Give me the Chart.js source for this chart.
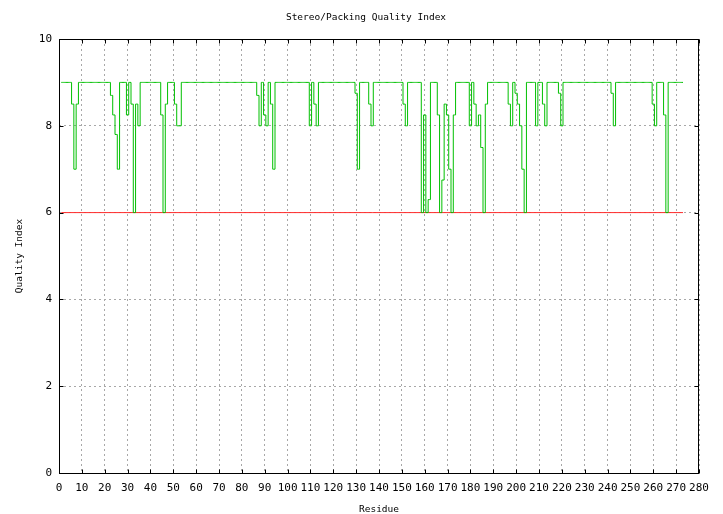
<!DOCTYPE html>
<html>
<head>
<meta charset="utf-8">
<script src="https://cdn.jsdelivr.net/npm/chart.js@4/dist/chart.umd.min.js"></script>
<style>
  html, body { margin: 0; padding: 0; background: #fff; }
  #wrap { position: relative; width: 723px; height: 514px; }
</style>
</head>
<body>
<div id="wrap"><canvas id="chart"></canvas></div>
<script>
// Stereo/packing quality index per residue (residues 1..273).
const firstResidue = 1;
const quality = [
  9, 9, 9, 9, 9, 8.5, 7, 8.5, 9, 9,          // 1-10
  9, 9, 9, 9, 9, 9, 9, 9, 9, 9,              // 11-20
  9, 9, 8.7, 8.25, 7.8, 7, 9, 9, 9, 8.25,    // 21-30
  9, 8.5, 6, 8.5, 8, 9, 9, 9, 9, 9,          // 31-40
  9, 9, 9, 9, 8.25, 6, 8.5, 9, 9, 9,         // 41-50
  8.5, 8, 8, 9, 9, 9, 9, 9, 9, 9,            // 51-60
  9, 9, 9, 9, 9, 9, 9, 9, 9, 9,              // 61-70
  9, 9, 9, 9, 9, 9, 9, 9, 9, 9,              // 71-80
  9, 9, 9, 9, 9, 9, 8.7, 8, 9, 8.25,         // 81-90
  8, 9, 8.5, 7, 9, 9, 9, 9, 9, 9,            // 91-100
  9, 9, 9, 9, 9, 9, 9, 9, 9, 8,              // 101-110
  9, 8.5, 8, 9, 9, 9, 9, 9, 9, 9,            // 111-120
  9, 9, 9, 9, 9, 9, 9, 9, 9, 8.75,           // 121-130
  7, 9, 9, 9, 9, 8.5, 8, 9, 9, 9,            // 131-140
  9, 9, 9, 9, 9, 9, 9, 9, 9, 9,              // 141-150
  8.5, 8, 9, 9, 9, 9, 9, 9, 6, 8.25,         // 151-160
  6, 6.3, 9, 9, 9, 8.25, 6, 6.75, 8.5, 8.25, // 161-170
  7, 6, 8.25, 9, 9, 9, 9, 9, 9, 8,           // 171-180
  9, 8.5, 8, 8.25, 7.5, 6, 8.5, 9, 9, 9,     // 181-190
  9, 9, 9, 9, 9, 9, 8.5, 8, 9, 8.75,         // 191-200
  8.5, 8, 7, 6, 9, 9, 9, 9, 8, 9,            // 201-210
  9, 8.5, 8, 9, 9, 9, 9, 9, 8.75, 8,         // 211-220
  9, 9, 9, 9, 9, 9, 9, 9, 9, 9,              // 221-230
  9, 9, 9, 9, 9, 9, 9, 9, 9, 9,              // 231-240
  9, 8.75, 8, 9, 9, 9, 9, 9, 9, 9,           // 241-250
  9, 9, 9, 9, 9, 9, 9, 9, 9, 8.5,            // 251-260
  8, 9, 9, 9, 8.25, 6, 9, 9, 9, 9,           // 261-270
  9, 9, 9                                    // 271-273
];

// Red cut-off line across the sequence.
const cutoffValue = 6;
const cutoffResidues = [1, 273];

// Axis ranges / tick steps.
const xRange = [0, 280];
const xStep = 10;
const yRange = [0, 10];
const yStep = 2;

const TICK = 4;
const FONT = 'DejaVu Sans Mono';

// gnuplot-style frame: box round the plot area with inward tick marks.
const frameTicks = {
  id: 'frameTicks',
  afterDraw(chart) {
    const { ctx, chartArea: a, scales: { x, y } } = chart;
    const L = Math.round(a.left) + 0.5, R = Math.round(a.right) - 0.5;
    const T = Math.round(a.top) + 0.5, B = Math.round(a.bottom) + 0.5;
    ctx.save();
    ctx.strokeStyle = '#000';
    ctx.lineWidth = 1;
    ctx.strokeRect(L, T, R - L, B - T);
    ctx.beginPath();
    x.ticks.forEach((t) => {
      const px = Math.round(x.getPixelForValue(t.value)) + 0.5;
      ctx.moveTo(px, B); ctx.lineTo(px, B - TICK);
      ctx.moveTo(px, T); ctx.lineTo(px, T + TICK);
    });
    y.ticks.forEach((t) => {
      const py = Math.round(y.getPixelForValue(t.value)) + 0.5;
      ctx.moveTo(L, py); ctx.lineTo(L + TICK, py);
      ctx.moveTo(R, py); ctx.lineTo(R - TICK, py);
    });
    ctx.stroke();
    ctx.restore();
  },
};

const grid = { color: '#a8a8a8', lineWidth: 1, drawTicks: false };
const border = { display: false, dash: [2, 3] };

new Chart(document.getElementById('chart'), {
  type: 'line',
  data: {
    datasets: [
      {
        label: 'Quality',
        data: quality.map((v, i) => ({ x: firstResidue + i, y: v })),
        borderColor: '#00c000',
        borderWidth: 1,
        pointRadius: 0,
        stepped: 'middle',
      },
      {
        label: 'Cut-off',
        data: cutoffResidues.map((r) => ({ x: r, y: cutoffValue })),
        borderColor: '#ff2a2a',
        borderWidth: 1,
        pointRadius: 0,
      },
    ],
  },
  options: {
    responsive: true,
    maintainAspectRatio: false,
    animation: false,
    events: [],
    // left padding centres the title over the same point as the reference
    layout: { padding: { left: 33, right: 24, top: 0, bottom: 0 } },
    plugins: {
      legend: { display: false },
      tooltip: { enabled: false },
      title: {
        display: true,
        text: 'Stereo/Packing Quality Index',
        color: '#000',
        font: { family: FONT, size: 9.5, weight: 'normal', lineHeight: '12px' },
        padding: { top: 12, bottom: 15 },
      },
    },
    scales: {
      x: {
        type: 'linear',
        min: xRange[0],
        max: xRange[1],
        grid,
        border,
        ticks: {
          stepSize: xStep,
          autoSkip: false,
          maxRotation: 0,
          padding: 9,
          color: '#000',
          font: { family: FONT, size: 11 },
        },
        title: {
          display: true,
          text: 'Residue',
          color: '#000',
          font: { family: FONT, size: 9.5, lineHeight: '8px' },
          padding: { top: 0, bottom: 0 },
        },
        afterFit: (s) => { s.height = 41; },
      },
      y: {
        min: yRange[0],
        max: yRange[1],
        grid,
        border,
        ticks: {
          stepSize: yStep,
          padding: 7,
          color: '#000',
          font: { family: FONT, size: 11 },
        },
        title: {
          display: true,
          text: 'Quality Index',
          color: '#000',
          font: { family: FONT, size: 9.5, lineHeight: '10px' },
          padding: { top: -18, bottom: 0 },
        },
        afterFit: (s) => { s.width = 26; },
      },
    },
  },
  plugins: [frameTicks],
});
</script>
</body>
</html>
